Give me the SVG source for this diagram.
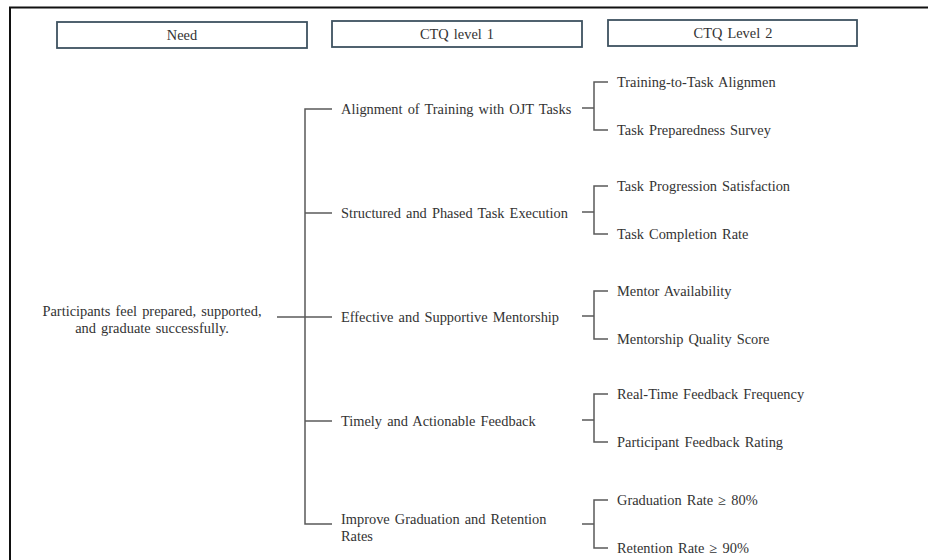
<svg xmlns="http://www.w3.org/2000/svg" width="928" height="560" viewBox="0 0 928 560">
  <style>
    .frame { fill: none; stroke: #111; stroke-width: 2; }
    .hdr rect { fill: #fff; stroke: #3e5260; stroke-width: 1.8; }
    text { font-family: "Liberation Serif", "Times New Roman", serif; font-size: 14.4px; fill: #333; word-spacing: 1.5px; }
    .c { text-anchor: middle; }
    .conn path { fill: none; stroke: #5a5a5a; stroke-width: 1.5; }
  </style>
  <rect width="928" height="560" fill="#fff"/>
  <!-- outer frame -->
  <path class="frame" d="M10,560 V7.5 H928"/>

  <!-- column headers -->
  <g id="hdr-need" class="hdr">
    <rect x="57" y="22" width="250" height="26"/>
    <text class="c" x="182" y="40">Need</text>
  </g>
  <g id="hdr-ctq1" class="hdr">
    <rect x="332" y="21" width="250" height="26"/>
    <text class="c" x="457" y="39">CTQ level 1</text>
  </g>
  <g id="hdr-ctq2" class="hdr">
    <rect x="608" y="20" width="249" height="26"/>
    <text class="c" x="733" y="38">CTQ Level 2</text>
  </g>

  <!-- connectors -->
  <g id="connectors" class="conn">
    <path d="M277,317 H332"/>
    <path d="M332,109 H305 V524 H332"/>
    <path d="M305,213 H332"/>
    <path d="M305,421 H332"/>
    <!-- level-2 brackets -->
    <path d="M582,108 H594 M608,82 H594 V130 H608"/>
    <path d="M582,212 H594 M608,186 H594 V234 H608"/>
    <path d="M582,316 H594 M608,291 H594 V339 H608"/>
    <path d="M582,420 H594 M608,394 H594 V442 H608"/>
    <path d="M582,524 H594 M608,500 H594 V548 H608"/>
  </g>

  <!-- need -->
  <g id="need">
    <text class="c" x="152" y="316">Participants feel prepared, supported,</text>
    <text class="c" x="152" y="333">and graduate successfully.</text>
  </g>

  <!-- CTQ level 1 -->
  <g id="ctq1-alignment"><text x="341" y="114">Alignment of Training with OJT Tasks</text></g>
  <g id="ctq1-structured"><text x="341" y="218">Structured and Phased Task Execution</text></g>
  <g id="ctq1-mentorship"><text x="341" y="322">Effective and Supportive Mentorship</text></g>
  <g id="ctq1-feedback"><text x="341" y="426">Timely and Actionable Feedback</text></g>
  <g id="ctq1-graduation">
    <text x="341" y="524">Improve Graduation and Retention</text>
    <text x="341" y="541">Rates</text>
  </g>

  <!-- CTQ level 2 -->
  <g id="ctq2-alignment"><text x="617" y="87">Training-to-Task Alignmen</text></g>
  <g id="ctq2-preparedness"><text x="617" y="135">Task Preparedness Survey</text></g>
  <g id="ctq2-progression"><text x="617" y="191">Task Progression Satisfaction</text></g>
  <g id="ctq2-completion"><text x="617" y="239">Task Completion Rate</text></g>
  <g id="ctq2-availability"><text x="617" y="296">Mentor Availability</text></g>
  <g id="ctq2-quality"><text x="617" y="344">Mentorship Quality Score</text></g>
  <g id="ctq2-frequency"><text x="617" y="399">Real-Time Feedback Frequency</text></g>
  <g id="ctq2-rating"><text x="617" y="447">Participant Feedback Rating</text></g>
  <g id="ctq2-graduation"><text x="617" y="505">Graduation Rate ≥ 80%</text></g>
  <g id="ctq2-retention"><text x="617" y="553">Retention Rate ≥ 90%</text></g>
</svg>
